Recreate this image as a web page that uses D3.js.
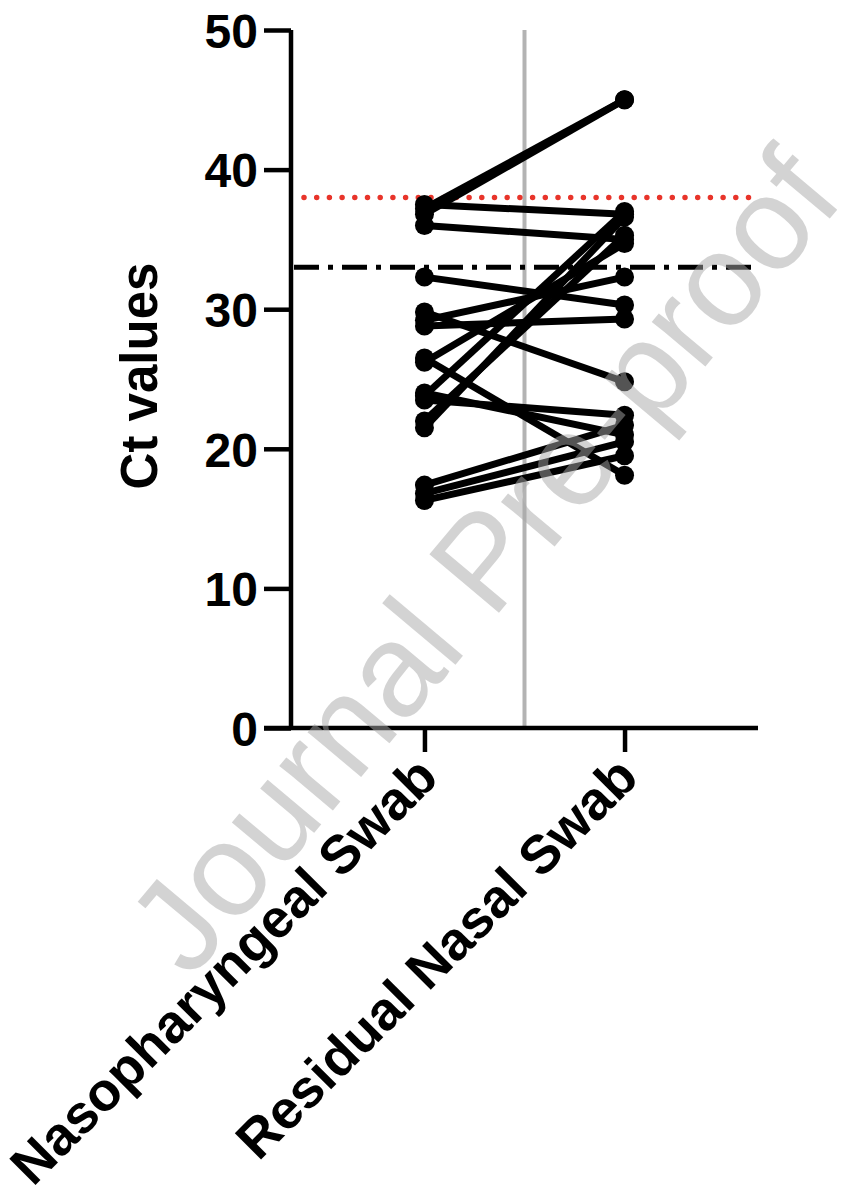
<!DOCTYPE html>
<html>
<head>
<meta charset="utf-8">
<script src="https://d3js.org/d3.v7.min.js"></script>
<style>
  html, body { margin: 0; padding: 0; background: #fff; }
  svg { display: block; }
  text { font-family: "Liberation Sans", Arial, sans-serif; }
</style>
</head>
<body>
<div id="chart"></div>
<script>
const categories = ["Nasopharyngeal Swab", "Residual Nasal Swab"];
const npValues = [37.2, 36.8, 37.5, 36.0, 32.3, 29.8, 29.2, 26.5, 26.2, 23.8, 23.5, 22.0, 21.5, 17.4, 16.8, 16.3, 28.8, 24.0];
const rnValues = [45.0, 45.0, 36.8, 35.0, 30.3, 24.8, 32.3, 18.1, 34.7, 37.0, 22.4, 35.3, 36.6, 21.7, 20.5, 19.5, 29.3, 21.0];
const yTicks = [0, 10, 20, 30, 40, 50];
const lodValue = 38;      // red dotted
const cutoffValue = 33;   // black dash-dot
const yLabel = "Ct values";
const watermark = "Journal Pre-proof";

const W = 854, H = 1189;
const svg = d3.select("#chart").append("svg").attr("width", W).attr("height", H);

const y = d3.scaleLinear().domain([0, 50]).range([728, 30]);
const x = d3.scalePoint().domain(categories).range([291, 758]).padding(0.667);

const fontTick = 48;

// grey separator between groups
const midX = (x(categories[0]) + x(categories[1])) / 2;
svg.append("line")
  .attr("x1", midX).attr("x2", midX)
  .attr("y1", y(50)).attr("y2", y(0))
  .attr("stroke", "#b3b3b3").attr("stroke-width", 4);

// reference lines
svg.append("line")
  .attr("x1", 304).attr("x2", 756)
  .attr("y1", y(lodValue)).attr("y2", y(lodValue))
  .attr("stroke", "#e8342a").attr("stroke-width", 5.5)
  .attr("stroke-linecap", "round")
  .attr("stroke-dasharray", "0 12.7");

svg.append("line")
  .attr("x1", 294).attr("x2", 756)
  .attr("y1", y(cutoffValue)).attr("y2", y(cutoffValue))
  .attr("stroke", "#000").attr("stroke-width", 5)
  .attr("stroke-dasharray", "25 9 5 9");

// paired data
const pairs = npValues.map((v, i) => [v, rnValues[i]]);
const g = svg.append("g");
g.selectAll("line.pair").data(pairs).enter().append("line")
  .attr("class", "pair")
  .attr("x1", x(categories[0])).attr("x2", x(categories[1]))
  .attr("y1", d => y(d[0])).attr("y2", d => y(d[1]))
  .attr("stroke", "#000").attr("stroke-width", 7);
g.selectAll("circle.np").data(npValues).enter().append("circle")
  .attr("cx", x(categories[0])).attr("cy", d => y(d)).attr("r", 9.5).attr("fill", "#000");
g.selectAll("circle.rn").data(rnValues).enter().append("circle")
  .attr("cx", x(categories[1])).attr("cy", d => y(d)).attr("r", 9.5).attr("fill", "#000");

// y axis
const yAxis = d3.axisLeft(y).tickValues(yTicks).tickSize(27).tickPadding(6);
const ya = svg.append("g").attr("transform", "translate(291,0)").call(yAxis);
ya.select(".domain").attr("stroke", "#000").attr("stroke-width", 4.5)
  .attr("d", `M0,${y(50)}V${y(0)}`);
ya.selectAll(".tick line").attr("stroke", "#000").attr("stroke-width", 4.5);
ya.selectAll(".tick text").attr("font-size", fontTick).attr("font-weight", "bold")
  .attr("fill", "#000").attr("dy", "0.36em");

// x axis
const xAxis = d3.axisBottom(x).tickSize(24).tickFormat("");
const xa = svg.append("g").attr("transform", `translate(0,${y(0)})`).call(xAxis);
xa.select(".domain").attr("stroke", "#000").attr("stroke-width", 4.5)
  .attr("d", "M264,0H758");
xa.selectAll(".tick line").attr("stroke", "#000").attr("stroke-width", 4.5);

// rotated category labels
svg.selectAll("text.cat").data(categories).enter().append("text")
  .attr("class", "cat")
  .attr("transform", d => `translate(${x(d) + 16},${780}) rotate(-45)`)
  .attr("text-anchor", "end")
  .attr("font-size", 54).attr("font-weight", "bold").attr("fill", "#000")
  .text(d => d);

// y label
svg.append("text")
  .attr("transform", "translate(157,376) rotate(-90)")
  .attr("text-anchor", "middle")
  .attr("font-size", 51).attr("font-weight", "bold").attr("fill", "#000")
  .text(yLabel);

// watermark
svg.append("text")
  .attr("transform", "translate(518,590) rotate(-50)")
  .attr("text-anchor", "middle")
  .attr("font-size", 132)
  .attr("fill", "#a8a8a8").attr("fill-opacity", 0.5)
  .text(watermark);
</script>
</body>
</html>
